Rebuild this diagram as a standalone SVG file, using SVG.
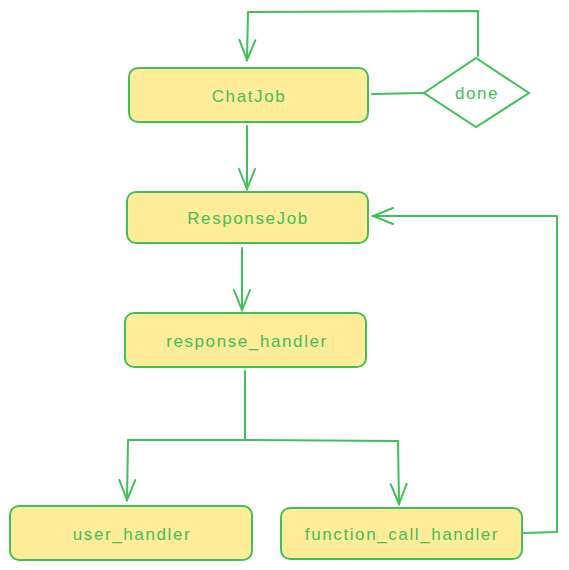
<svg xmlns="http://www.w3.org/2000/svg" width="569" height="570" viewBox="0 0 569 570">
<defs>
<style>
.box{fill:#ffec99;stroke:#40c057;stroke-width:2}
.dia{fill:#ffffff;stroke:#40c057;stroke-width:2}
.lbl{font-family:"Liberation Sans",Arial,sans-serif;font-size:17px;letter-spacing:1.6px;fill:#40c057;text-anchor:middle;dominant-baseline:central}
.edge{fill:none;stroke:#40c057;stroke-width:2;stroke-linejoin:round;stroke-linecap:round}
</style>
<marker id="ah" viewBox="0 0 24 20" refX="22" refY="10" markerWidth="24" markerHeight="20" markerUnits="userSpaceOnUse" orient="auto">
<path d="M2 2 L22 10 L2 18" fill="none" stroke="#40c057" stroke-width="2" stroke-linecap="round"/>
</marker>
</defs>
<rect width="569" height="570" fill="#ffffff"/>
<g id="connectors">
<path class="edge" d="M478 56 L478 11 L248 12 L247 60" marker-end="url(#ah)"/>
<path class="edge" d="M372 94 L424 93"/>
<path class="edge" d="M247 126 L247 189" marker-end="url(#ah)"/>
<path class="edge" d="M242 248 L242 310" marker-end="url(#ah)"/>
<path class="edge" d="M245 371 L245 440"/>
<path class="edge" d="M245 440 L128 440 L127 500" marker-end="url(#ah)"/>
<path class="edge" d="M245 440 L398 441 L399 504" marker-end="url(#ah)"/>
<path class="edge" d="M524 533 L557 532 L557 216 L373 216" marker-end="url(#ah)"/>
</g>
<g id="node-chatjob">
<rect class="box" x="129" y="68" width="239" height="54" rx="9"/>
<text class="lbl" x="249" y="96">ChatJob</text>
</g>
<g id="node-done">
<path class="dia" d="M476 58 L529 93 L476 127 L424 93 Z"/>
<text class="lbl" x="477" y="93">done</text>
</g>
<g id="node-responsejob">
<rect class="box" x="127" y="192" width="241" height="51" rx="9"/>
<text class="lbl" x="248" y="218">ResponseJob</text>
</g>
<g id="node-response-handler">
<rect class="box" x="125" y="313" width="241" height="54" rx="9"/>
<text class="lbl" x="247" y="341">response_handler</text>
</g>
<g id="node-user-handler">
<rect class="box" x="10" y="506" width="242" height="54" rx="9"/>
<text class="lbl" x="132" y="534">user_handler</text>
</g>
<g id="node-function-call-handler">
<rect class="box" x="281" y="508" width="241" height="51" rx="9"/>
<text class="lbl" x="402" y="534">function_call_handler</text>
</g>
</svg>
